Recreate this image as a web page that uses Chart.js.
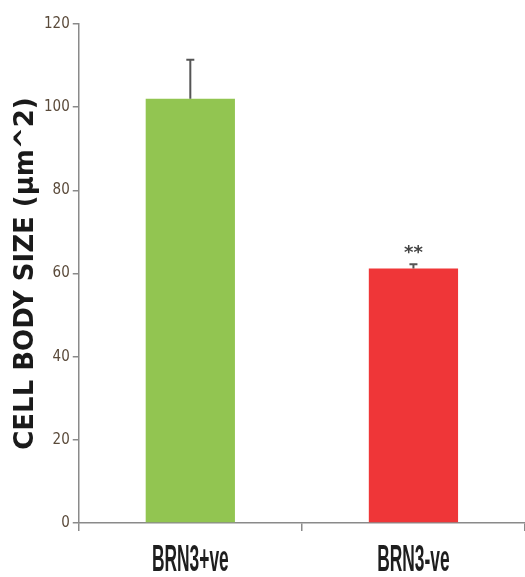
<!DOCTYPE html>
<html>
<head>
<meta charset="utf-8">
<script src="https://cdn.jsdelivr.net/npm/chart.js@4"></script>
<style>
  html, body { margin: 0; padding: 0; background: #fff; }
  #wrap { width: 525px; height: 577px; position: relative; }
</style>
</head>
<body>
<div id="wrap"><canvas id="myChart"></canvas></div>
<script>
const categories = ['BRN3+ve', 'BRN3-ve'];
const meanValues = [102, 61.2];
const errorValues = [9.4, 1];
const sigLabels = ['', '**'];
const barColors = ['#92c551', '#ef3638'];
const yTicks = [0, 20, 40, 60, 80, 100, 120];

// error bars + significance stars
const errorBarPlugin = {
  id: 'errorBars',
  afterDatasetsDraw(chart) {
    const ctx = chart.ctx;
    const meta = chart.getDatasetMeta(0);
    const yScale = chart.scales.y;
    meta.data.forEach((bar, i) => {
      const x = bar.x;
      const yBase = yScale.getPixelForValue(meanValues[i]);
      const yTop = yScale.getPixelForValue(meanValues[i] + errorValues[i]);
      ctx.save();
      ctx.strokeStyle = '#555';
      ctx.lineWidth = 2;
      ctx.beginPath();
      ctx.moveTo(x, yBase);
      ctx.lineTo(x, yTop);
      ctx.moveTo(x - 4, yTop);
      ctx.lineTo(x + 4, yTop);
      ctx.stroke();
      if (sigLabels[i]) {
        ctx.fillStyle = '#444';
        ctx.font = 'bold 18px "DejaVu Sans"';
        ctx.textAlign = 'center';
        ctx.textBaseline = 'bottom';
        ctx.fillText(sigLabels[i], x, yTop - 2);
      }
      ctx.restore();
    });
  }
};

// the category labels are a tall, squeezed bold face; draw them compressed
const narrowLabelPlugin = {
  id: 'narrowLabels',
  afterDraw(chart) {
    const ctx = chart.ctx;
    const xScale = chart.scales.x;
    const squeeze = 0.47;
    ctx.save();
    ctx.fillStyle = '#1e1e1e';
    ctx.font = 'bold 37px "Liberation Sans", Arial, sans-serif';
    ctx.textAlign = 'center';
    ctx.textBaseline = 'alphabetic';
    categories.forEach((label, i) => {
      const x = xScale.getPixelForValue(i);
      ctx.save();
      ctx.translate(x, 571);
      ctx.scale(squeeze, 1);
      ctx.fillText(label, 0, 0);
      ctx.restore();
    });
    ctx.restore();
  }
};

const myChartElement = document.getElementById('myChart');

let myChart = new Chart(myChartElement, {
  type: 'bar',
  data: {
    labels: categories,
    datasets: [{
      data: meanValues,
      backgroundColor: barColors,
      borderWidth: 0,
      categoryPercentage: 1,
      barPercentage: 0.4
    }]
  },
  options: {
    responsive: true,
    maintainAspectRatio: false,
    animation: false,
    layout: { padding: { top: 24, right: 0, left: 13, bottom: 46 } },
    plugins: {
      legend: { display: false },
      tooltip: { enabled: false }
    },
    scales: {
      y: {
        min: 0,
        max: 120,
        afterBuildTicks: (axis) => { axis.ticks = yTicks.map(v => ({ value: v })); },
        border: { color: '#8a8a8a', width: 1.5 },
        grid: { drawOnChartArea: false, tickLength: 6, color: '#8a8a8a', lineWidth: 1.5 },
        ticks: {
          color: '#5a4a3a',
          padding: 3,
          font: { family: '"DejaVu Sans Condensed", sans-serif', size: 15 }
        },
        title: {
          display: true,
          text: 'CELL BODY SIZE (µm^2)',
          color: '#1a1a1a',
          padding: { top: 0, bottom: 2 },
          font: { family: '"DejaVu Sans", sans-serif', size: 26, weight: 'bold', lineHeight: 1 }
        }
      },
      x: {
        border: { color: '#8a8a8a', width: 1.5 },
        grid: { drawOnChartArea: false, tickLength: 8, color: '#8a8a8a', lineWidth: 1.5, offset: true },
        ticks: { display: false }
      }
    }
  },
  plugins: [errorBarPlugin, narrowLabelPlugin]
});
</script>
</body>
</html>
